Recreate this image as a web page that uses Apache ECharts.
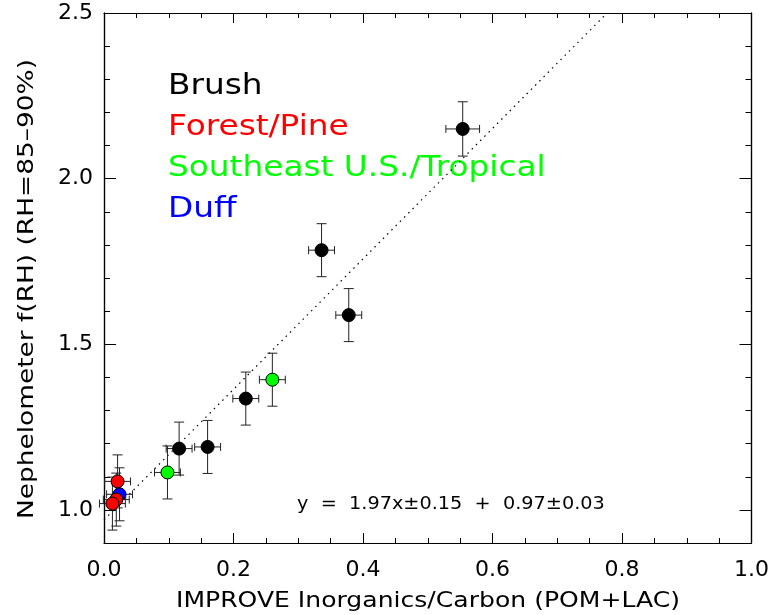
<!DOCTYPE html>
<html>
<head>
<meta charset="utf-8">
<script src="https://cdn.jsdelivr.net/npm/echarts@6/dist/echarts.min.js"></script>
<style>
  html, body { margin: 0; padding: 0; background: #fff; }
  #chart { width: 772px; height: 615px; }
</style>
</head>
<body>
<div id="chart"></div>
<script>
// values
var brushX    = [0.554, 0.336, 0.378, 0.219, 0.116, 0.160];
var brushY    = [2.150, 1.784, 1.588, 1.336, 1.185, 1.190];
var brushXErr = [0.026, 0.020, 0.020, 0.020, 0.020, 0.020];
var brushYErr = [0.082, 0.080, 0.080, 0.080, 0.080, 0.080];

var pineX    = [0.021, 0.019, 0.013];
var pineY    = [1.086, 1.031, 1.019];
var pineXErr = [0.020, 0.020, 0.020];
var pineYErr = [0.080, 0.080, 0.080];

var tropX    = [0.098, 0.260];
var tropY    = [1.113, 1.393];
var tropXErr = [0.020, 0.020];
var tropYErr = [0.080, 0.080];

var duffX    = [0.024];
var duffY    = [1.047];
var duffXErr = [0.020];
var duffYErr = [0.080];

// fitted line y = 1.97x + 0.97, end points
var fitX = [0.0, 0.777];
var fitY = [0.97, 2.5];

var xTickLabels = [0.0, 0.2, 0.4, 0.6, 0.8, 1.0];
var yTickLabels = [1.0, 1.5, 2.0, 2.5];

var legendNames  = ['Brush', 'Forest/Pine', 'Southeast U.S./Tropical', 'Duff'];
var legendColors = ['#000000', '#ff0000', '#00ff00', '#0000ff'];
var fitText = 'y  =  1.97x\u00b10.15  +  0.97\u00b10.03';
var xTitle = 'IMPROVE Inorganics/Carbon (POM+LAC)';
var yTitle = 'Nephelometer f(RH) (RH=85\u201390%)';

var FONT = 'DejaVu Sans';

function pts(xs, ys) {
  var out = [];
  for (var i = 0; i < xs.length; i++) out.push([xs[i], ys[i]]);
  return out;
}
function errs(xs, ys, xe, ye) {
  var out = [];
  for (var i = 0; i < xs.length; i++) out.push([xs[i], ys[i], xe[i], ye[i]]);
  return out;
}

var errData = [].concat(
  errs(brushX, brushY, brushXErr, brushYErr),
  errs(tropX, tropY, tropXErr, tropYErr),
  errs(duffX, duffY, duffXErr, duffYErr),
  errs(pineX, pineY, pineXErr, pineYErr)
);

function renderErr(params, api) {
  var x = api.value(0), y = api.value(1), xe = api.value(2), ye = api.value(3);
  var top = api.coord([x, y + ye]);
  var bot = api.coord([x, y - ye]);
  var lft = api.coord([x - xe, y]);
  var rgt = api.coord([x + xe, y]);
  var cw = 5, ch = 4;
  var st = { stroke: '#222', lineWidth: 1 };
  function ln(x1, y1, x2, y2) {
    return { type: 'line', shape: { x1: x1, y1: y1, x2: x2, y2: y2 }, style: st };
  }
  return {
    type: 'group',
    children: [
      ln(top[0], top[1], bot[0], bot[1]),
      ln(top[0] - cw, top[1], top[0] + cw, top[1]),
      ln(bot[0] - cw, bot[1], bot[0] + cw, bot[1]),
      ln(lft[0], lft[1], rgt[0], rgt[1]),
      ln(lft[0], lft[1] - ch, lft[0], lft[1] + ch),
      ln(rgt[0], rgt[1] - ch, rgt[0], rgt[1] + ch)
    ]
  };
}

var axisLineStyle = { show: true, lineStyle: { color: '#000', width: 1.2 } };

function xAx(pos, labels) {
  return {
    type: 'value', min: 0, max: 1, interval: 0.2, position: pos,
    axisLine: axisLineStyle,
    axisTick: { inside: true, length: 10, lineStyle: { color: '#000' } },
    minorTick: { show: true, splitNumber: 4, length: 5, lineStyle: { color: '#000' } },
    splitLine: { show: false },
    axisLabel: labels ? {
      customValues: xTickLabels,
      formatter: function (v) { return v.toFixed(1); },
      fontSize: 22, color: '#000', margin: 16, fontFamily: FONT
    } : { show: false }
  };
}
function yMinor(pos) {
  return {
    type: 'value', min: 0.9, max: 2.5, interval: 0.1, position: pos,
    axisLine: axisLineStyle,
    axisTick: { inside: true, length: 6, lineStyle: { color: '#000' } },
    axisLabel: { show: false },
    splitLine: { show: false }
  };
}
function yMajor(pos, labels) {
  return {
    type: 'value', min: 0.9, max: 2.5, position: pos,
    axisLine: axisLineStyle,
    axisTick: { inside: true, length: 12, customValues: yTickLabels, lineStyle: { color: '#000' } },
    axisLabel: labels ? {
      customValues: yTickLabels,
      formatter: function (v) { return v.toFixed(1); },
      fontSize: 22, color: '#000', margin: 11, fontFamily: FONT
    } : { show: false },
    splitLine: { show: false }
  };
}

// the original lettering is wider than DejaVu, so texts get a horizontal stretch
var graphics = [];
for (var i = 0; i < legendNames.length; i++) {
  graphics.push({
    type: 'text', x: 168, y: 72 + i * 41, scaleX: 1.13, silent: true,
    style: { text: legendNames[i], fill: legendColors[i], font: '29px "' + FONT + '"',
             align: 'left', verticalAlign: 'top' }
  });
}
graphics.push({
  type: 'text', x: 297, y: 495, scaleX: 1.07, silent: true,
  style: { text: fitText, fill: '#000', font: '18px "' + FONT + '"', align: 'left', verticalAlign: 'top' }
});
graphics.push({
  type: 'text', x: 428, y: 601, scaleX: 1.14, silent: true,
  style: { text: xTitle, fill: '#000', font: '22px "' + FONT + '"', align: 'center', verticalAlign: 'middle' }
});
graphics.push({
  type: 'text', x: 27, y: 289, rotation: Math.PI / 2, scaleX: 1.2, silent: true,
  style: { text: yTitle, fill: '#000', font: '22px "' + FONT + '"', align: 'center', verticalAlign: 'middle' }
});

function scatter(name, data, color, z) {
  return {
    name: name, type: 'scatter', data: data, z: z,
    symbol: 'circle', symbolSize: 13,
    itemStyle: { color: color, borderColor: '#000', borderWidth: 1, opacity: 1 }
  };
}

var chart = echarts.init(document.getElementById('chart'));
chart.setOption({
  animation: false,
  backgroundColor: '#fff',
  grid: { left: 104, right: 20, top: 13, bottom: 72, containLabel: false },
  xAxis: [xAx('bottom', true), xAx('top', false)],
  yAxis: [yMinor('left'), yMajor('left', true), yMinor('right'), yMajor('right', false)],
  graphic: graphics,
  series: [
    {
      type: 'line', data: pts(fitX, fitY), symbol: 'none', z: 1,
      lineStyle: { color: '#000', width: 1.2, type: [1.5, 4.5] }
    },
    {
      type: 'custom', data: errData, renderItem: renderErr, z: 2,
      encode: { x: 0, y: 1 }
    },
    scatter('Brush', pts(brushX, brushY), '#000000', 3),
    scatter('Southeast U.S./Tropical', pts(tropX, tropY), '#00ff00', 3),
    scatter('Duff', pts(duffX, duffY), '#0000ff', 3),
    scatter('Forest/Pine', pts(pineX, pineY), '#ff0000', 3)
  ]
});
</script>
</body>
</html>
